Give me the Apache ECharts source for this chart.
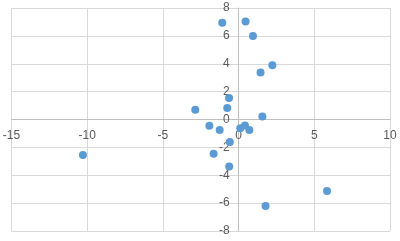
<!DOCTYPE html>
<html><head><meta charset="utf-8">
<script src="https://cdn.jsdelivr.net/npm/echarts@6/dist/echarts.min.js"></script>
<style>html,body{margin:0;padding:0;background:#fff}#c{width:400px;height:241px}</style>
</head><body><div id="c"></div>
<script>
var xValues = [-2.86, -1.08, 0.46, 0.95, 2.23, 1.45, -0.63, -0.75, 1.57, -1.93, -1.25, 0.11, 0.42, 0.71, -0.58, -1.65, -0.62, 5.84, 1.78, -10.28];
var yValues = [0.70, 6.94, 7.04, 5.99, 3.89, 3.38, 1.55, 0.83, 0.21, -0.45, -0.75, -0.63, -0.43, -0.75, -1.61, -2.45, -3.38, -5.13, -6.20, -2.55];
var xTicks = [-15, -10, -5, 0, 5, 10];
var yTicks = [-8, -6, -4, -2, 0, 2, 4, 6, 8];

var points = xValues.map(function (x, i) { return [x, yValues[i]]; });
var W = 400, H = 241;
var grid = {left: 11.5, right: 10, top: 8, bottom: 10};
var gw = W - grid.left - grid.right, gh = H - grid.top - grid.bottom;
var xMin = xTicks[0], xMax = xTicks[xTicks.length - 1];
var yMin = yTicks[0], yMax = yTicks[yTicks.length - 1];
// move axes so they cross at zero
var yAxisOffset = -gw * (0 - xMin) / (xMax - xMin);
var xAxisOffset = -gh * (0 - yMin) / (yMax - yMin);

var chart = echarts.init(document.getElementById('c'), null, {renderer: 'canvas'});
var labelStyle = {color: '#595959', fontSize: 12, fontFamily: 'Liberation Sans'};
chart.setOption({
  animation: false,
  grid: {left: grid.left, right: grid.right, top: grid.top, bottom: grid.bottom, containLabel: false, outerBoundsMode: 'none'},
  xAxis: {
    type: 'value', min: xMin, max: xMax, interval: 5,
    position: 'bottom', offset: xAxisOffset,
    axisLine: {show: true, onZero: false, lineStyle: {color: '#bfbfbf', width: 1}},
    axisTick: {show: false},
    axisLabel: Object.assign({margin: 10}, labelStyle),
    splitLine: {show: true, lineStyle: {color: '#d9d9d9', width: 1}}
  },
  yAxis: {
    type: 'value', min: yMin, max: yMax, interval: 2,
    position: 'left', offset: yAxisOffset,
    axisLine: {show: true, onZero: false, lineStyle: {color: '#bfbfbf', width: 1}},
    axisTick: {show: false},
    axisLabel: Object.assign({margin: 9}, labelStyle),
    splitLine: {show: true, lineStyle: {color: '#d9d9d9', width: 1}}
  },
  series: [{
    type: 'scatter',
    data: points,
    symbolSize: 8,
    itemStyle: {color: '#5b9bd5', opacity: 1}
  }]
});
</script></body></html>
